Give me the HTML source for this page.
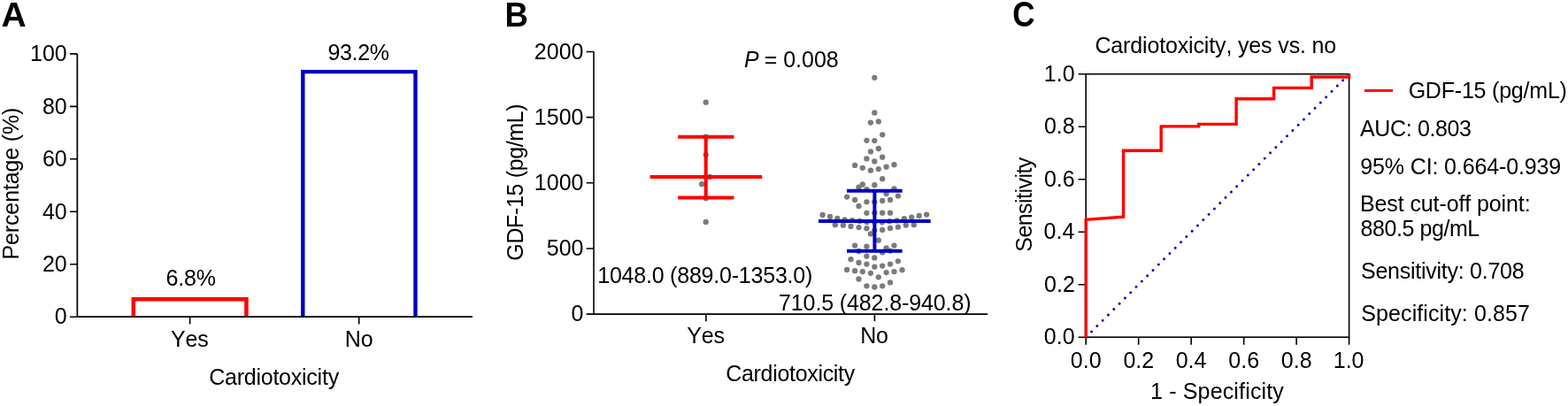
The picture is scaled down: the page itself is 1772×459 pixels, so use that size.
<!DOCTYPE html>
<html><head><meta charset="utf-8">
<style>
html,body{margin:0;padding:0;background:#fff;}
svg{display:block;}
text{font-family:"Liberation Sans",Arial,Helvetica,sans-serif;font-size:25px;fill:#000;font-variant-ligatures:none;font-kerning:none;}
</style></head><body>
<svg width="1772" height="459" viewBox="0 0 1772 459">
<path d="M150.8 358.2V338.2H278.4V358.2" fill="none" stroke="#f00" stroke-width="4.5"/>
<path d="M342.3 358.2V81.1H469.5V358.2" fill="none" stroke="#0000c0" stroke-width="4.4"/>
<g stroke="#000" stroke-width="1.6" fill="none">
<path d="M87.35 60.9V358.2H534" stroke-width="1.7"/>
<path d="M79 60.9H87.35M79 120.4H87.35M79 179.8H87.35M79 239.3H87.35M79 298.7H87.35M79 358.2H87.35"/>
<path d="M214.6 358.2V366.6M405.7 358.2V366.6"/>
<path d="M671.0 58.5V355.1H1116.2"/>
<path d="M662.6 58.5H671.0M662.6 132.65H671.0M662.6 206.8H671.0M662.6 280.95H671.0M662.6 355.1H671.0"/>
<path d="M797.9 355.1V363.2M988.4 355.1V363.2"/>
<rect x="1227.2" y="83.7" width="297.4" height="297.5"/>
<path d="M1218.6 83.7H1227.2M1218.6 143.2H1227.2M1218.6 202.7H1227.2M1218.6 262.2H1227.2M1218.6 321.7H1227.2M1218.6 381.2H1227.2"/>
<path d="M1227.2 381.2V389.8M1286.68 381.2V389.8M1346.16 381.2V389.8M1405.64 381.2V389.8M1465.1200000000001 381.2V389.8M1524.6 381.2V389.8"/>
</g>
<g fill="#7b7b7b"><circle cx="797.7" cy="115.7" r="3.15"/><circle cx="797.7" cy="154.6" r="3.15"/><circle cx="797.7" cy="174.9" r="3.15"/><circle cx="802.1" cy="200" r="3.15"/><circle cx="793.1" cy="208.2" r="3.15"/><circle cx="797.7" cy="224.2" r="3.15"/><circle cx="797.7" cy="250.9" r="3.15"/><circle cx="988.3" cy="87.8" r="3.15"/><circle cx="988.3" cy="127.4" r="3.15"/><circle cx="983.9" cy="138.6" r="3.15"/><circle cx="992.8" cy="137.4" r="3.15"/><circle cx="997.2" cy="152.3" r="3.15"/><circle cx="979.4" cy="158.8" r="3.15"/><circle cx="988.3" cy="159.1" r="3.15"/><circle cx="992.8" cy="168" r="3.15"/><circle cx="983.9" cy="171.4" r="3.15"/><circle cx="979.4" cy="179.4" r="3.15"/><circle cx="997.2" cy="177.7" r="3.15"/><circle cx="988.3" cy="182.5" r="3.15"/><circle cx="966.1" cy="186.9" r="3.15"/><circle cx="974.8" cy="189.8" r="3.15"/><circle cx="983.9" cy="192.7" r="3.15"/><circle cx="992.8" cy="191.1" r="3.15"/><circle cx="1001.6" cy="188.7" r="3.15"/><circle cx="1010.5" cy="186.2" r="3.15"/><circle cx="997.2" cy="202.2" r="3.15"/><circle cx="974.8" cy="208.5" r="3.15"/><circle cx="970.5" cy="211.7" r="3.15"/><circle cx="988.3" cy="209.2" r="3.15"/><circle cx="979.4" cy="214.1" r="3.15"/><circle cx="1010.5" cy="213.4" r="3.15"/><circle cx="1001.6" cy="219.1" r="3.15"/><circle cx="957.1" cy="222.6" r="3.15"/><circle cx="966.1" cy="225.9" r="3.15"/><circle cx="979.4" cy="228.3" r="3.15"/><circle cx="988.3" cy="228.3" r="3.15"/><circle cx="997.2" cy="227" r="3.15"/><circle cx="1006" cy="225.9" r="3.15"/><circle cx="1014.9" cy="221.6" r="3.15"/><circle cx="970.5" cy="233" r="3.15"/><circle cx="979.4" cy="240.8" r="3.15"/><circle cx="988.3" cy="240.7" r="3.15"/><circle cx="997.2" cy="240.7" r="3.15"/><circle cx="1006" cy="240.7" r="3.15"/><circle cx="929.6" cy="243" r="3.15"/><circle cx="938" cy="244.9" r="3.15"/><circle cx="946.3" cy="246.8" r="3.15"/><circle cx="954.6" cy="248.4" r="3.15"/><circle cx="963.1" cy="249.1" r="3.15"/><circle cx="971.6" cy="250" r="3.15"/><circle cx="979.5" cy="251" r="3.15"/><circle cx="988.3" cy="251.2" r="3.15"/><circle cx="996.8" cy="251.3" r="3.15"/><circle cx="1005.1" cy="250.2" r="3.15"/><circle cx="1013.6" cy="249.4" r="3.15"/><circle cx="1021.9" cy="247.1" r="3.15"/><circle cx="1030.2" cy="245.6" r="3.15"/><circle cx="1038.7" cy="244" r="3.15"/><circle cx="1047.1" cy="242.6" r="3.15"/><circle cx="943.8" cy="254.2" r="3.15"/><circle cx="952.9" cy="254.7" r="3.15"/><circle cx="961.5" cy="255.9" r="3.15"/><circle cx="970.5" cy="257.1" r="3.15"/><circle cx="979.4" cy="258.2" r="3.15"/><circle cx="988.3" cy="260.6" r="3.15"/><circle cx="997.2" cy="259.9" r="3.15"/><circle cx="1006" cy="257.9" r="3.15"/><circle cx="1014.9" cy="256.7" r="3.15"/><circle cx="1023.8" cy="254.6" r="3.15"/><circle cx="1032.8" cy="254.2" r="3.15"/><circle cx="983.9" cy="264.4" r="3.15"/><circle cx="992.8" cy="271.7" r="3.15"/><circle cx="966.1" cy="277.6" r="3.15"/><circle cx="979.4" cy="278.7" r="3.15"/><circle cx="1001.6" cy="280.4" r="3.15"/><circle cx="1010.5" cy="277.6" r="3.15"/><circle cx="970.5" cy="284" r="3.15"/><circle cx="997.2" cy="285.4" r="3.15"/><circle cx="1006" cy="283.6" r="3.15"/><circle cx="979.4" cy="289.7" r="3.15"/><circle cx="988.3" cy="291.4" r="3.15"/><circle cx="961.5" cy="293.2" r="3.15"/><circle cx="970.5" cy="297" r="3.15"/><circle cx="979.4" cy="298.6" r="3.15"/><circle cx="988.3" cy="301.7" r="3.15"/><circle cx="997.2" cy="300.6" r="3.15"/><circle cx="1006" cy="298.6" r="3.15"/><circle cx="1014.9" cy="295.3" r="3.15"/><circle cx="957.1" cy="305" r="3.15"/><circle cx="966.1" cy="306.2" r="3.15"/><circle cx="974.8" cy="307.1" r="3.15"/><circle cx="983.9" cy="308.8" r="3.15"/><circle cx="1001.6" cy="308.1" r="3.15"/><circle cx="1010.5" cy="307.1" r="3.15"/><circle cx="1019.5" cy="305.2" r="3.15"/><circle cx="970.5" cy="315.5" r="3.15"/><circle cx="992.8" cy="313.3" r="3.15"/><circle cx="1006" cy="319.4" r="3.15"/><circle cx="979.4" cy="323.3" r="3.15"/><circle cx="988.3" cy="324.5" r="3.15"/><circle cx="997.2" cy="323.3" r="3.15"/></g>
<g stroke="#f00" stroke-width="4" fill="none">
<path d="M734.6 200H861.2M766.2 154.7H829.4M766.2 223.4H829.4M797.7 154.7V223.4"/>
</g>
<g stroke="#0000c0" stroke-width="4" fill="none">
<path d="M925 250.1H1051.7M957 215.7H1019.6M957 283.7H1019.6M988.4 215.7V283.7"/>
</g>
<path d="M1233.52 374.88L1524.6 83.7" stroke="#0000c0" stroke-width="3" stroke-dasharray="0 8.93" stroke-linecap="round" fill="none"/>
<path d="M1227.2 381.2V248.3L1269.6 245.2V170.3H1312.2V142.9H1354.7V140.4H1397.1V111.8H1439.6V99.4H1482.2V87H1524.6V83.7" stroke="#f00" stroke-width="3.4" fill="none"/>
<line x1="1542" y1="102.4" x2="1574" y2="102.4" stroke="#f00" stroke-width="3"/>
<text x="1.43" y="29.90" style="font-weight:bold;font-size:39px;">A</text>
<text x="34.07" y="69.10" style="font-size:25px;">100</text>
<text x="47.97" y="128.60" style="font-size:25px;">80</text>
<text x="47.97" y="188.00" style="font-size:25px;">60</text>
<text x="47.97" y="247.50" style="font-size:25px;">40</text>
<text x="47.97" y="306.90" style="font-size:25px;">20</text>
<text x="61.87" y="366.40" style="font-size:25px;">0</text>
<text x="370.53" y="68.20" style="font-size:25px;letter-spacing:-0.381px;">93.2%</text>
<text x="187.43" y="322.50" style="font-size:25px;letter-spacing:-0.141px;">6.8%</text>
<text x="192.95" y="391.60" style="font-size:25px;letter-spacing:-0.113px;">Yes</text>
<text x="389.75" y="391.90" style="font-size:25px;letter-spacing:-0.158px;">No</text>
<text x="236.23" y="435.30" style="font-size:25px;letter-spacing:-0.241px;">Cardiotoxicity</text>
<text transform="translate(20.60,293.45) rotate(-90)" style="font-size:25px;letter-spacing:-0.146px;">Percentage (%)</text>
<text transform="translate(570.45,29.8) scale(0.94,1)" style="font-weight:bold;font-size:39px;">B</text>
<text x="603.86" y="66.70" style="font-size:25px;">2000</text>
<text x="603.86" y="140.85" style="font-size:25px;">1500</text>
<text x="603.86" y="215.00" style="font-size:25px;">1000</text>
<text x="617.77" y="289.15" style="font-size:25px;">500</text>
<text x="645.57" y="363.30" style="font-size:25px;">0</text>
<text x="776.35" y="388.00" style="font-size:25px;letter-spacing:-0.262px;">Yes</text>
<text x="972.15" y="388.00" style="font-size:25px;letter-spacing:-0.157px;">No</text>
<text x="820.23" y="431.20" style="font-size:25px;letter-spacing:-0.310px;">Cardiotoxicity</text>
<text transform="translate(591.30,294.66) rotate(-90)" style="font-size:25px;letter-spacing:-0.360px;">GDF-15 (pg/mL)</text>
<text x="675.20" y="319.70" style="font-size:25px;letter-spacing:-0.213px;">1048.0 (889.0-1353.0)</text>
<text x="880.02" y="350.50" style="font-size:25px;letter-spacing:-0.115px;">710.5 (482.8-940.8)</text>
<text x="841.0" y="75.5" style="font-size:25px;"><tspan style="font-style:italic">P</tspan><tspan dx="-1"> = 0.008</tspan></text>
<text transform="translate(1144.3,30.1) scale(0.9,1.03)" style="font-weight:bold;font-size:39px;">C</text>
<text x="1179.82" y="91.90" style="font-size:25px;">1.0</text>
<text x="1179.93" y="151.40" style="font-size:25px;">0.8</text>
<text x="1179.94" y="210.90" style="font-size:25px;">0.6</text>
<text x="1179.58" y="270.40" style="font-size:25px;">0.4</text>
<text x="1180.11" y="329.90" style="font-size:25px;">0.2</text>
<text x="1179.82" y="389.40" style="font-size:25px;">0.0</text>
<text x="1209.82" y="415.80" style="font-size:25px;">0.0</text>
<text x="1269.44" y="415.80" style="font-size:25px;">0.2</text>
<text x="1328.66" y="415.80" style="font-size:25px;">0.4</text>
<text x="1388.32" y="415.80" style="font-size:25px;">0.6</text>
<text x="1447.80" y="415.80" style="font-size:25px;">0.8</text>
<text x="1506.76" y="415.80" style="font-size:25px;">1.0</text>
<text x="1237.43" y="60.00" style="font-size:25px;letter-spacing:-0.147px;">Cardiotoxicity, yes vs. no</text>
<text transform="translate(1165.80,284.74) rotate(-90)" style="font-size:25px;letter-spacing:-0.545px;">Sensitivity</text>
<text x="1300.00" y="450.80" style="font-size:25px;letter-spacing:0.157px;">1 - Specificity</text>
<text x="1591.64" y="110.70" style="font-size:25px;letter-spacing:-0.206px;">GDF-15 (pg/mL)</text>
<text x="1537.05" y="154.20" style="font-size:25px;letter-spacing:-0.365px;">AUC: 0.803</text>
<text x="1537.23" y="196.50" style="font-size:25px;letter-spacing:-0.126px;">95% CI: 0.664-0.939</text>
<text x="1536.95" y="238.80" style="font-size:25px;letter-spacing:-0.106px;">Best cut-off point:</text>
<text x="1537.61" y="267.30" style="font-size:25px;letter-spacing:-0.437px;">880.5 pg/mL</text>
<text x="1537.97" y="315.30" style="font-size:25px;letter-spacing:-0.257px;">Sensitivity: 0.708</text>
<text x="1538.37" y="363.10" style="font-size:25px;letter-spacing:0.088px;">Specificity: 0.857</text>
</svg>
</body></html>
